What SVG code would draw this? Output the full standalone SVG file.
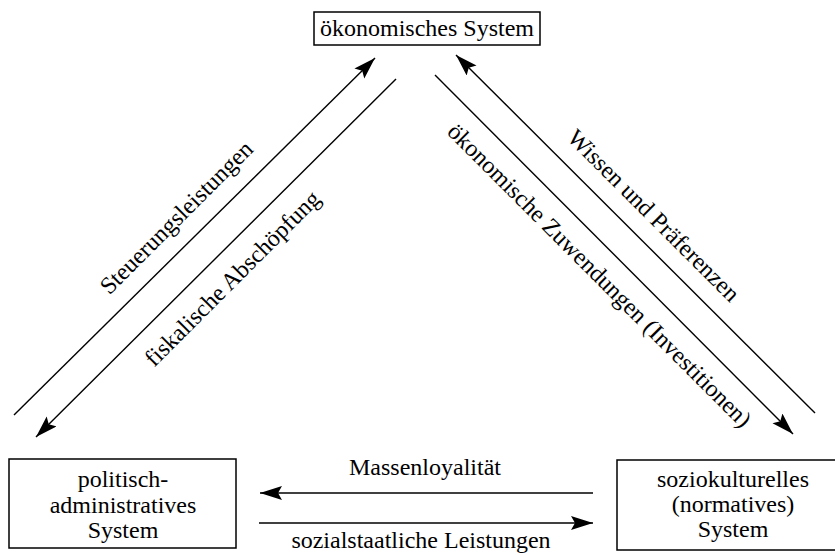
<svg xmlns="http://www.w3.org/2000/svg" width="835" height="555" viewBox="0 0 835 555">
  <defs>
    <style>
      .box { fill: #ffffff; stroke: #000000; stroke-width: 1.5; }
      .lbl { font-family: "Liberation Serif", "Times New Roman", serif; font-size: 24px; fill: #000000; text-anchor: middle; }
      .edge { stroke: #000000; stroke-width: 1.4; fill: none; marker-end: url(#arrow); }
    </style>
    <marker id="arrow" markerUnits="userSpaceOnUse" markerWidth="24" markerHeight="16" refX="22" refY="7" orient="auto">
      <path d="M0,0 L22,7 L0,14 L4,7 Z" fill="#000000"/>
    </marker>
  </defs>
  <rect width="835" height="555" fill="#ffffff"/>

  <g id="node-oekonomisch">
    <rect class="box" x="314" y="12" width="226" height="33"/>
    <text class="lbl" x="427" y="36">ökonomisches System</text>
  </g>

  <g id="node-politisch">
    <rect class="box" x="9" y="459" width="227" height="89"/>
    <text class="lbl" x="123" y="487">politisch-</text>
    <text class="lbl" x="123" y="513">administratives</text>
    <text class="lbl" x="123" y="538">System</text>
  </g>

  <g id="node-soziokulturell">
    <rect class="box" x="617" y="460" width="232" height="90"/>
    <text class="lbl" x="733" y="487">soziokulturelles</text>
    <text class="lbl" x="733" y="512">(normatives)</text>
    <text class="lbl" x="733" y="537">System</text>
  </g>

  <g id="connectors">
    <line class="edge" x1="14" y1="415" x2="375" y2="58"/>
    <line class="edge" x1="396" y1="79" x2="36" y2="437"/>
    <line class="edge" x1="435" y1="75" x2="793" y2="434"/>
    <line class="edge" x1="815" y1="413" x2="456" y2="55"/>
    <line class="edge" x1="593" y1="493" x2="260" y2="493"/>
    <line class="edge" x1="259" y1="523" x2="593" y2="523"/>

    <text class="lbl" transform="translate(182,223) rotate(-45)">Steuerungsleistungen</text>
    <text class="lbl" transform="translate(238,284) rotate(-45)">fiskalische Abschöpfung</text>
    <text class="lbl" transform="translate(648,221) rotate(45)">Wissen und Präferenzen</text>
    <text class="lbl" transform="translate(594,281) rotate(45)">ökonomische Zuwendungen (Investitionen)</text>
    <text class="lbl" x="425" y="475">Massenloyalität</text>
    <text class="lbl" x="421" y="548">sozialstaatliche Leistungen</text>
  </g>
</svg>
